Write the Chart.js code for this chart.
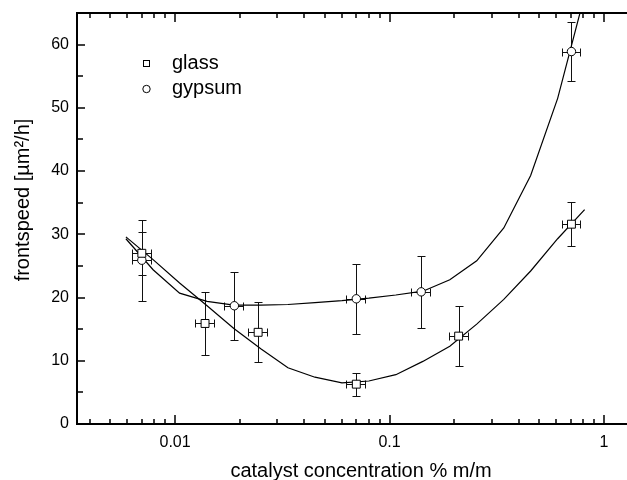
<!DOCTYPE html>
<html>
<head>
<meta charset="utf-8">
<script src="https://cdn.jsdelivr.net/npm/chart.js@4.4.1/dist/chart.umd.min.js"></script>
<style>
  html, body { margin: 0; padding: 0; background: #fff; }
</style>
</head>
<body>
<canvas id="chart" width="627" height="480"></canvas>
<script>
// measured points (concentration % m/m, frontspeed um2/h)
const glassX = [0.0070, 0.0138, 0.0244, 0.070, 0.210, 0.705];
const glassY = [27.0, 15.9, 14.5, 6.3, 13.9, 31.6];
const glassXErr = [0.0007, 0.0014, 0.0024, 0.007, 0.021, 0.070];
const glassYErr = [3.4, 5.0, 4.75, 1.8, 4.7, 3.5];

const gypsumX = [0.0070, 0.0189, 0.070, 0.1405, 0.705];
const gypsumY = [25.9, 18.7, 19.8, 20.9, 58.9];
const gypsumXErr = [0.0007, 0.0019, 0.007, 0.014, 0.070];
const gypsumYErr = [6.4, 5.35, 5.5, 5.65, 4.7];

// fitted curves
const fitX = [0.0059, 0.0079, 0.0105, 0.0141, 0.0188, 0.0251, 0.0336, 0.0449, 0.0600,
  0.0801, 0.107, 0.143, 0.191, 0.255, 0.341, 0.455, 0.608, 0.812];
const glassFit = [29.6, 26.0, 22.3, 18.7, 15.1, 11.9, 8.9, 7.4, 6.5,
  6.8, 7.8, 9.9, 12.3, 15.8, 19.7, 24.2, 29.3, 33.9];
const gypsumFit = [29.3, 24.4, 20.7, 19.4, 18.8, 18.8, 18.9, 19.2, 19.5,
  19.9, 20.4, 21.0, 22.8, 25.8, 31.0, 39.3, 51.5, 67.8];

const xMajorTicks = [0.01, 0.1, 1];
const xMinorTicks = [0.004, 0.005, 0.006, 0.007, 0.008, 0.009,
  0.02, 0.03, 0.04, 0.05, 0.06, 0.07, 0.08, 0.09,
  0.2, 0.3, 0.4, 0.5, 0.6, 0.7, 0.8, 0.9];
const yMajorTicks = [0, 10, 20, 30, 40, 50, 60];
const yMinorTicks = [5, 15, 25, 35, 45, 55];

const FONT = "'Liberation Sans', Arial, Helvetica, sans-serif";

const toPoints = (xs, ys) => xs.map((x, i) => ({ x: x, y: ys[i] }));

// error bars go under the markers
const errorBars = {
  id: "errorBars",
  beforeDatasetsDraw(chart) {
    const { ctx, scales: { x, y } } = chart;
    const sets = [
      [glassX, glassY, glassXErr, glassYErr],
      [gypsumX, gypsumY, gypsumXErr, gypsumYErr],
    ];
    ctx.save();
    ctx.strokeStyle = "#111";
    ctx.lineWidth = 1;
    sets.forEach(([xs, ys, xe, ye]) => {
      xs.forEach((v, i) => {
        const px = Math.round(x.getPixelForValue(v)) + 0.5;
        const py = Math.round(y.getPixelForValue(ys[i])) + 0.5;
        const top = Math.round(y.getPixelForValue(ys[i] + ye[i])) + 0.5;
        const bot = Math.round(y.getPixelForValue(ys[i] - ye[i])) + 0.5;
        const lft = Math.round(x.getPixelForValue(v - xe[i])) + 0.5;
        const rgt = Math.round(x.getPixelForValue(v + xe[i])) + 0.5;
        ctx.beginPath();
        ctx.moveTo(px, top); ctx.lineTo(px, bot);
        ctx.moveTo(px - 4, top); ctx.lineTo(px + 4, top);
        ctx.moveTo(px - 4, bot); ctx.lineTo(px + 4, bot);
        ctx.moveTo(lft, py); ctx.lineTo(rgt, py);
        ctx.moveTo(lft, py - 4); ctx.lineTo(lft, py + 4);
        ctx.moveTo(rgt, py - 4); ctx.lineTo(rgt, py + 4);
        ctx.stroke();
      });
    });
    ctx.restore();
  },
};

// axis frame, inward ticks, titles and legend
const frame = {
  id: "frame",
  afterDraw(chart) {
    const { ctx, chartArea: a, scales: { x, y } } = chart;
    ctx.save();
    ctx.strokeStyle = "#000";
    ctx.lineWidth = 2;
    ctx.beginPath();
    ctx.moveTo(a.right + 2, a.top);
    ctx.lineTo(a.left, a.top);
    ctx.lineTo(a.left, a.bottom);
    ctx.lineTo(a.right + 2, a.bottom);
    ctx.stroke();

    ctx.lineWidth = 1.5;
    ctx.beginPath();
    const xTick = (v, len) => {
      const px = Math.round(x.getPixelForValue(v));
      ctx.moveTo(px, a.bottom); ctx.lineTo(px, a.bottom - len);
      ctx.moveTo(px, a.top); ctx.lineTo(px, a.top + len);
    };
    xMajorTicks.forEach(v => xTick(v, 9));
    xMinorTicks.forEach(v => xTick(v, 5));
    const yTick = (v, len) => {
      const py = Math.round(y.getPixelForValue(v));
      ctx.moveTo(a.left, py); ctx.lineTo(a.left + len, py);
    };
    yMajorTicks.forEach(v => yTick(v, 8));
    yMinorTicks.forEach(v => yTick(v, 6));
    ctx.stroke();

    // axis titles
    ctx.fillStyle = "#000";
    ctx.font = "20px " + FONT;
    ctx.textAlign = "center";
    ctx.textBaseline = "alphabetic";
    ctx.fillText("catalyst concentration % m/m", 361, 477);

    ctx.save();
    ctx.translate(23, 200);
    ctx.rotate(-Math.PI / 2);
    ctx.textBaseline = "middle";
    ctx.font = "20px " + FONT;
    ctx.fillText("frontspeed [\u00b5m\u00b2/h]", 0, 0);
    ctx.restore();

    // legend
    ctx.lineWidth = 1;
    ctx.strokeStyle = "#000";
    ctx.strokeRect(143.5, 60.5, 6, 6);
    ctx.beginPath();
    ctx.arc(146.5, 89, 3.7, 0, Math.PI * 2);
    ctx.stroke();
    ctx.font = "20px " + FONT;
    ctx.textAlign = "left";
    ctx.fillText("glass", 172, 69);
    ctx.fillText("gypsum", 172, 94);
    ctx.restore();
  },
};

const noPad = (scale) => {
  scale.paddingTop = 0;
  scale.paddingBottom = 0;
  scale.paddingLeft = 0;
  scale.paddingRight = 0;
};

new Chart(document.getElementById("chart"), {
  type: "scatter",
  data: {
    datasets: [
      {
        label: "glass",
        data: toPoints(glassX, glassY),
        pointStyle: "rect",
        pointRadius: 5.6,
        borderColor: "#000",
        backgroundColor: "#fff",
        borderWidth: 1,
      },
      {
        label: "gypsum",
        data: toPoints(gypsumX, gypsumY),
        pointStyle: "circle",
        pointRadius: 4.2,
        borderColor: "#000",
        backgroundColor: "#fff",
        borderWidth: 1,
      },
      {
        label: "glass fit",
        data: toPoints(fitX, glassFit),
        showLine: true,
        pointRadius: 0,
        borderColor: "#000",
        borderWidth: 1.2,
        tension: 0,
      },
      {
        label: "gypsum fit",
        data: toPoints(fitX, gypsumFit),
        showLine: true,
        pointRadius: 0,
        borderColor: "#000",
        borderWidth: 1.2,
        tension: 0,
      },
    ],
  },
  options: {
    responsive: false,
    animation: false,
    devicePixelRatio: 1,
    layout: { autoPadding: false, padding: { top: 13, right: 0, left: 0, bottom: 0 } },
    plugins: {
      legend: { display: false },
      tooltip: { enabled: false },
    },
    scales: {
      x: {
        type: "logarithmic",
        min: 0.00349,
        max: 1.28,
        grid: { display: false, drawTicks: false },
        border: { display: false },
        afterBuildTicks: (scale) => {
          scale.ticks = xMajorTicks.map(v => ({ value: v }));
        },
        afterFit: (scale) => { scale.height = 56; noPad(scale); },
        ticks: {
          padding: 9,
          color: "#000",
          font: { family: FONT, size: 16 },
          maxRotation: 0,
          callback: (v) => String(v),
        },
      },
      y: {
        min: 0,
        max: 65,
        grid: { display: false, drawTicks: false },
        border: { display: false },
        afterBuildTicks: (scale) => {
          scale.ticks = yMajorTicks.map(v => ({ value: v }));
        },
        afterFit: (scale) => { scale.width = 77; noPad(scale); },
        ticks: {
          padding: 8,
          color: "#000",
          font: { family: FONT, size: 16 },
        },
      },
    },
  },
  plugins: [errorBars, frame],
});
</script>
</body>
</html>
